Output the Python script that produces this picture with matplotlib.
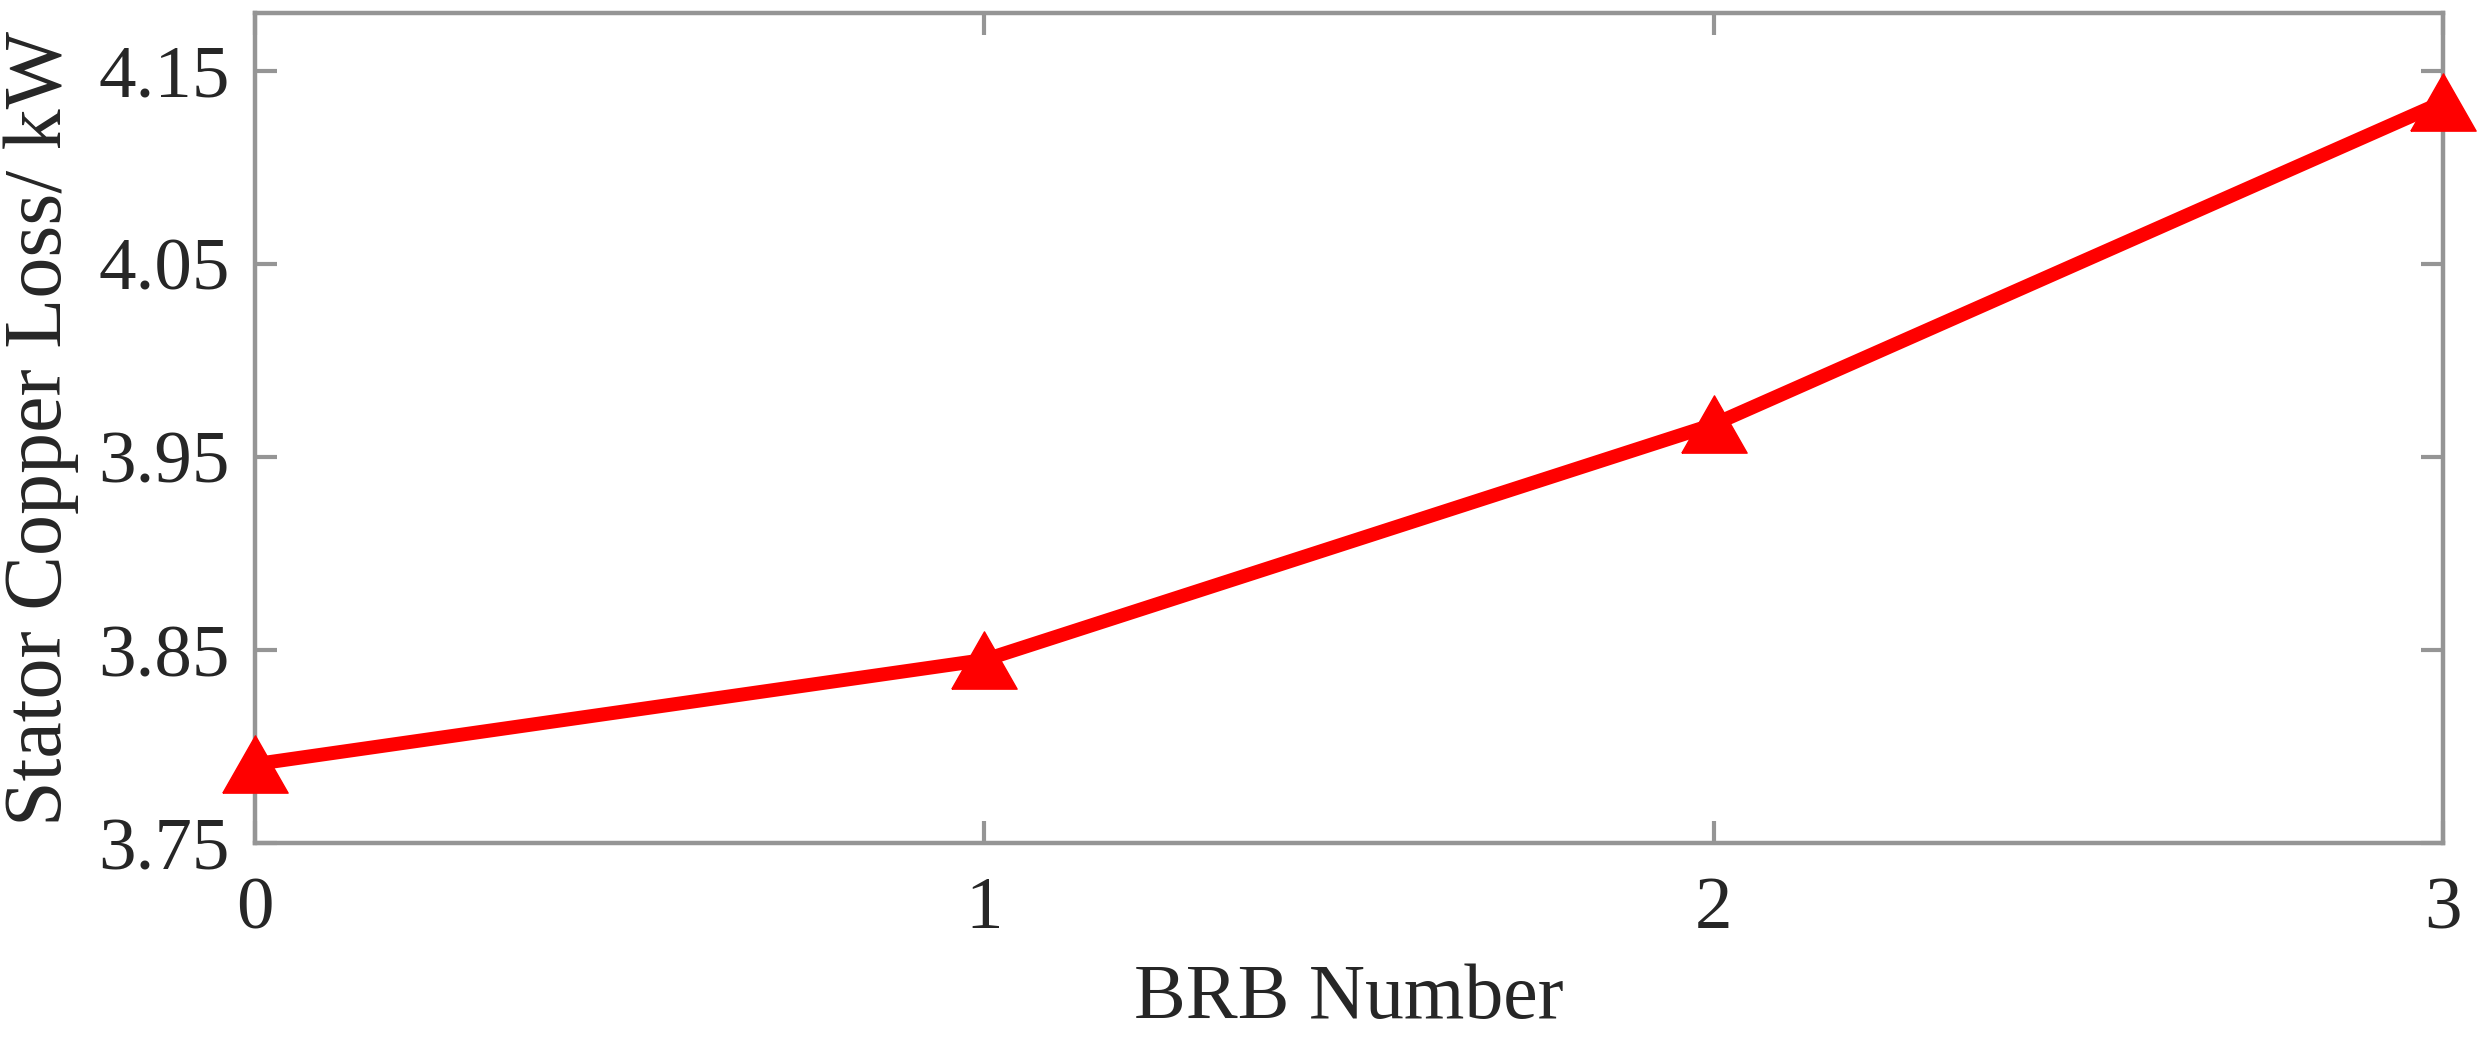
import matplotlib.pyplot as plt

# values
brb_number = [0, 1, 2, 3]
copper_loss = [3.791, 3.845, 3.967, 4.134]
y_ticks = [3.75, 3.85, 3.95, 4.05, 4.15]
y_tick_labels = ["3.75", "3.85", "3.95", "4.05", "4.15"]
x_ticks = [0, 1, 2, 3]

plt.rcParams['font.family'] = ['Liberation Serif', 'DejaVu Serif']

fig = plt.figure(figsize=(24.81, 10.37), dpi=100)
ax = fig.add_axes([0.1028, 0.1868, 0.8819, 0.8004])

# slightly wide triangle, like the MATLAB marker
tri = [(-1.14, -1), (1.14, -1), (0, 1), (-1.14, -1)]
ax.plot(brb_number, copper_loss, color='#ff0000', linewidth=10,
        marker=tri, markersize=47, markerfacecolor='#ff0000',
        markeredgecolor='#ff0000', clip_on=False, zorder=3)

ax.set_xlim(0, 3)
ax.set_ylim(3.75, 4.18)
ax.set_xticks(x_ticks)
ax.set_yticks(y_ticks)
ax.set_yticklabels(y_tick_labels)

spine_color = '#959595'
for s in ax.spines.values():
    s.set_color(spine_color)
    s.set_linewidth(3.2)

ax.tick_params(axis='both', direction='in', length=16, width=3.0,
               color=spine_color, labelcolor='#262626', labelsize=54,
               top=True, right=True)
ax.tick_params(axis='x', pad=24)
ax.tick_params(axis='y', pad=18)

ax.set_xlabel("BRB Number", fontsize=56, color='#262626', labelpad=14)
ax.set_ylabel("Stator Copper Loss/ kW", fontsize=59, color='#262626', labelpad=14)

fig.savefig("out.png", dpi=100)
